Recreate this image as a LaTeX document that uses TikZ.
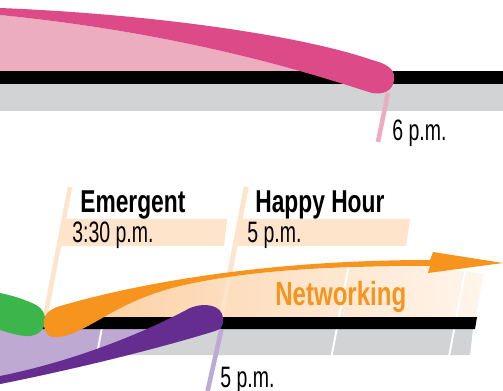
\documentclass[tikz,border=0pt]{standalone}
\usepackage{fontspec}
\usepackage{tikz}
\newfontfamily\timefont{Liberation Sans}[FakeStretch=0.66]
\newfontfamily\headfont{Liberation Sans}[FakeStretch=0.72]
\definecolor{EvPink}{HTML}{DC4A87}
\definecolor{EvPinkLight}{HTML}{ECADC1}
\definecolor{EvGray}{HTML}{D1D3D4}
\definecolor{EvOrange}{HTML}{F7941D}
\definecolor{EvOrangeLight}{HTML}{FCD0A2}
\definecolor{EvOrangePale}{HTML}{FFF5EC}
\definecolor{EvPeach}{HTML}{FDE4CB}
\definecolor{EvGreen}{HTML}{3CB54A}
\definecolor{EvPurple}{HTML}{662D91}
\definecolor{EvPurpleLight}{HTML}{BEA9D3}
\tikzset{
  leader/.style={line width=2.6pt},
  hourline/.style={white,line width=1.1pt},
  timetext/.style={inner sep=0pt,anchor=base west,font=\timefont\fontsize{16.8}{17}\selectfont},
  headtext/.style={inner sep=0pt,anchor=base west,font=\headfont\bfseries\fontsize{18}{19}\selectfont}
}

\begin{document}
\begin{tikzpicture}[x=0.02cm,y=-0.02cm]
\path[use as bounding box] (0,0) rectangle (503,391);
\fill[white] (0,0) rectangle (503,391);
% evening track
\fill[EvPinkLight] (0,15) .. controls (200,35) and (330,80) .. (372,93) -- (372,71) -- (0,71) -- cycle;
\fill[EvGray] (0,84) rectangle (503,111);
\fill[black] (0,71) rectangle (503,84);
\draw[EvPinkLight,leader] (388,93) -- (378,142);
\fill[EvPink] (0,8) .. controls (150,14) and (300,35) .. (372,60)
  .. controls (392,65) and (395,72) .. (394,80)
  .. controls (393,90) and (385,95) .. (372,93)
  .. controls (330,80) and (200,35) .. (0,15) -- cycle;
\node[timetext] (sixpm) at (392,141) {6 p.m.};
% afternoon track: labels
\fill[EvPeach] (63.9,219) -- (227,219) -- (224,246) -- (58.7,246) -- cycle;
\fill[EvPeach] (240.1,219) -- (410,219) -- (406,246) -- (235,246) -- cycle;
\draw[EvPeach,leader] (70,187) -- (45.6,315);
\draw[EvPeach,leader] (246.2,187) -- (221.5,317);
\node[headtext] (emergent) at (80,213) {Emergent};
\node[timetext] (emergtime) at (72,243) {3:30 p.m.};
\node[headtext] (happyhour) at (255,213) {Happy Hour};
\node[timetext] (happytime) at (247,243) {5 p.m.};
% afternoon track: bars
\shade[left color=EvOrangeLight,middle color=EvOrangeLight,right color=EvOrangePale]
  (80,330) .. controls (105,318) and (130,298) .. (180,286)
  .. controls (250,270) and (330,266) .. (430,267) -- (483,274) -- (476,317) -- (80,317) -- cycle;
\draw[EvPeach,leader] (246.2,187) -- (221.5,317);
\fill[EvGray] (0,329) -- (473,329) -- (470,355) -- (0,355) -- cycle;
\fill[EvPurpleLight] (0,329) -- (216,329) -- (215,331)
  .. controls (160,348) and (80,368) .. (0,384) -- cycle;
\foreach \h in {4,6,7}
  \draw[hourline] ({104+117.5*(\h-4)+0.19*67},250) -- ({104+117.5*(\h-4)-0.19*38},355);
\fill[black] (0,317) -- (477,317) -- (475,329) -- (0,329) -- cycle;
\draw[EvPurpleLight,leader] (221.5,329) -- (207.6,391);
\fill[EvPurple] (0,376) .. controls (70,362) and (140,335) .. (190,308)
  .. controls (205,302) and (222,305) .. (223,318)
  .. controls (224,326) and (220,330) .. (215,331)
  .. controls (160,348) and (80,368) .. (0,384) -- cycle;
\fill[EvGreen] (0,293) .. controls (15,296) and (25,300) .. (32,303)
  .. controls (42,307) and (46,314) .. (45,322)
  .. controls (44,332) and (35,337) .. (25,336)
  .. controls (15,335) and (7,332) .. (0,330) -- cycle;
\fill[EvOrange] (44,320) .. controls (45,313) and (50,310) .. (57,307)
  .. controls (120,288) and (250,260) .. (430,260)
  -- (433,252) -- (503,263) -- (428,273) -- (430,266)
  .. controls (330,266) and (250,270) .. (180,286)
  .. controls (130,298) and (105,318) .. (80,330)
  .. controls (70,335) and (60,338) .. (52,337)
  .. controls (45,335) and (43,327) .. (44,320) -- cycle;
\node[headtext,EvOrange,font=\headfont\bfseries\fontsize{19}{20}\selectfont] (networking) at (275,305) {Networking};
\node[timetext] (fivepm) at (220,387) {5 p.m.};
\end{tikzpicture}
\end{document}
